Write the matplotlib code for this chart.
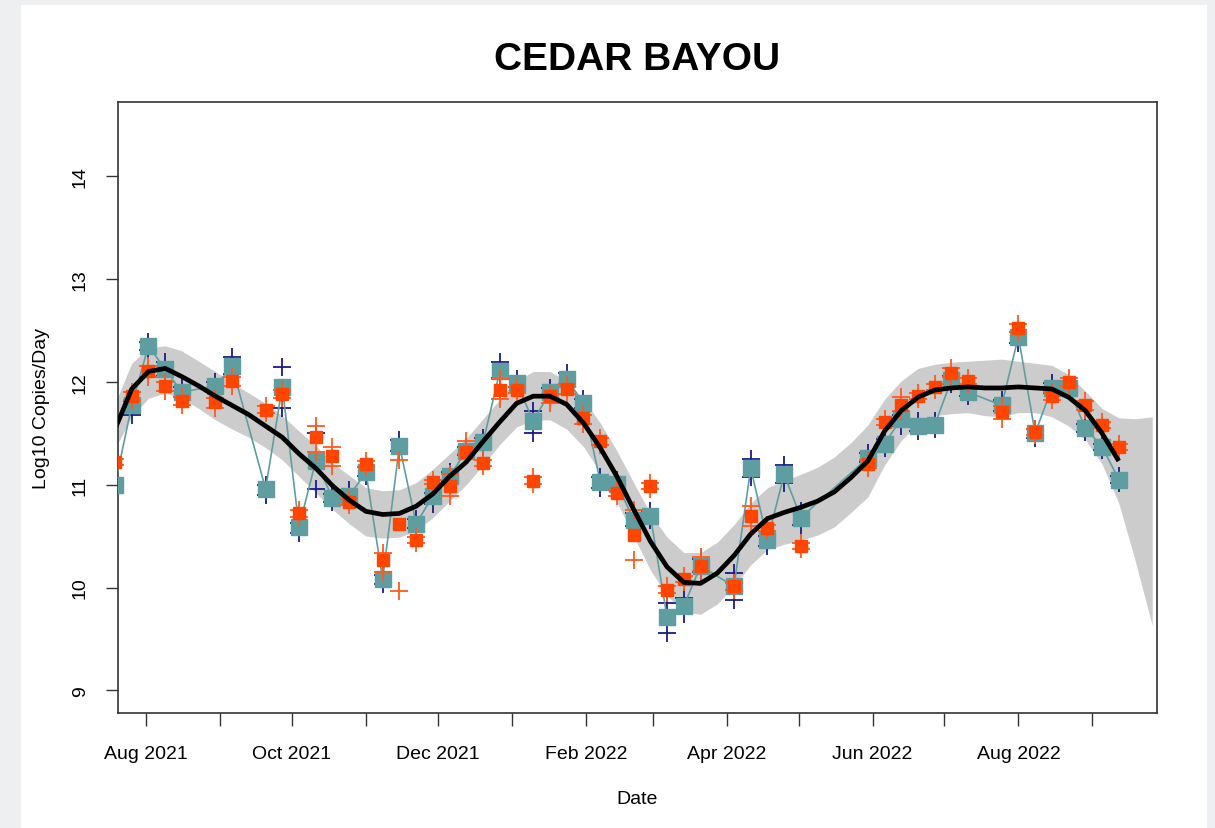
import numpy as np
import pandas as pd
import matplotlib
matplotlib.use("Agg")
from matplotlib import pyplot as plt
from matplotlib import patches
import matplotlib.dates as mdates

plt.rcParams['font.family'] = ['Liberation Sans', 'DejaVu Sans']

# sample dates (weekly, a few weeks missing)
dates = ["2021-07-19", "2021-07-26", "2021-08-02", "2021-08-09", "2021-08-16", "2021-08-30",
         "2021-09-06", "2021-09-20", "2021-09-27", "2021-10-04", "2021-10-11", "2021-10-18",
         "2021-10-25", "2021-11-01", "2021-11-08", "2021-11-15", "2021-11-22", "2021-11-29",
         "2021-12-06", "2021-12-13", "2021-12-20", "2021-12-27", "2022-01-03", "2022-01-10",
         "2022-01-17", "2022-01-24", "2022-01-31", "2022-02-07", "2022-02-14", "2022-02-21",
         "2022-02-28", "2022-03-07", "2022-03-14", "2022-03-21", "2022-04-04", "2022-04-11",
         "2022-04-18", "2022-04-25", "2022-05-02", "2022-05-30", "2022-06-06", "2022-06-13",
         "2022-06-20", "2022-06-27", "2022-07-04", "2022-07-11", "2022-07-25", "2022-08-01",
         "2022-08-08", "2022-08-15", "2022-08-22", "2022-08-29", "2022-09-05", "2022-09-12"]

# teal series (mean) and its replicates
teal_mean = [11.00, 11.77, 12.35, 12.12, 11.90, 11.96, 12.15, 10.96, 11.95, 10.59, 11.23, 10.87,
             10.89, 11.12, 10.08, 11.38, 10.62, 10.89, 11.08, 11.33, 11.41, 12.10, 11.99, 11.62,
             11.90, 12.03, 11.79, 11.03, 11.01, 10.66, 10.70, 9.71, 9.82, 10.21, 10.01, 11.16,
             10.46, 11.10, 10.68, 11.26, 11.40, 11.64, 11.57, 11.58, 12.02, 11.90, 11.77, 12.44,
             11.50, 11.94, 11.94, 11.55, 11.37, 11.05]
navy_rep1 = [11.04, 11.81, 12.39, 12.19, 11.95, 12.00, 12.24, 11.00, 12.14, 10.63, 11.50, 10.91,
             10.95, 11.17, 10.12, 11.43, 10.67, 10.92, 11.12, 11.37, 11.45, 12.19, 12.03, 11.72,
             11.94, 12.09, 11.83, 11.07, 11.05, 10.72, 10.74, 9.85, 9.90, 10.28, 10.14, 11.25,
             10.50, 11.19, 10.74, 11.31, 11.44, 11.68, 11.62, 11.62, 12.06, 11.94, 11.82, 12.48,
             11.54, 11.99, 11.97, 11.59, 11.40, 11.08]
navy_rep2 = [10.96, 11.68, 12.31, 12.06, 11.85, 11.92, 12.08, 10.90, 11.75, 10.53, 10.96, 10.83,
             10.85, 11.08, 10.03, 11.33, 10.58, 10.81, 11.04, 11.29, 11.37, 12.04, 11.95, 11.50,
             11.86, 11.98, 11.75, 10.97, 10.97, 10.60, 10.66, 9.56, 9.74, 10.15, 9.88, 11.07,
             10.40, 11.02, 10.61, 11.22, 11.36, 11.57, 11.52, 11.54, 11.98, 11.86, 11.72, 12.38,
             11.45, 11.89, 11.91, 11.51, 11.34, 11.02]

# orange series (mean) and its replicates
orange_mean = [11.22, 11.86, 12.10, 11.96, 11.81, 11.80, 12.01, 11.73, 11.88, 10.72, 11.46, 11.28,
               10.83, 11.20, 10.27, 10.62, 10.46, 11.03, 10.99, 11.32, 11.21, 11.92, 11.92, 11.04,
               11.86, 11.93, 11.65, 11.42, 10.92, 10.51, 10.99, 9.98, 10.08, 10.21, 10.01, 10.70,
               10.58, np.nan, 10.40, 11.20, 11.61, 11.77, 11.86, 11.95, 12.09, 12.01, 11.71, 12.52,
               11.51, 11.86, 12.00, 11.77, 11.58, 11.37]
orange_rep1 = [11.25, 11.90, 12.15, 12.00, 11.85, 11.84, 12.05, 11.76, 11.92, 10.75, 11.57, 11.37,
               10.86, 11.23, 10.34, 11.24, 10.49, 11.05, 11.10, 11.42, 11.24, 12.03, 11.95, 11.07,
               11.88, 11.98, 11.68, 11.45, 10.95, 10.75, 11.02, 10.01, 10.11, 10.30, 10.04, 10.79,
               10.61, np.nan, 10.43, 11.24, 11.64, 11.85, 11.89, 11.98, 12.13, 12.04, 11.76, 12.56,
               11.54, 11.90, 12.04, 11.81, 11.61, 11.40]
orange_rep2 = [11.19, 11.82, 12.05, 11.91, 11.77, 11.75, 11.96, 11.70, 11.84, 10.69, 11.32, 11.18,
               10.80, 11.17, 10.15, 9.97, 10.43, 11.01, 10.89, 11.30, 11.18, 11.83, 11.89, 11.01,
               11.79, 11.88, 11.59, 11.39, 10.89, 10.27, 10.96, 9.95, 10.05, 10.16, 9.98, 10.60,
               10.55, np.nan, 10.37, 11.16, 11.58, 11.72, 11.83, 11.92, 12.05, 11.98, 11.64, 12.48,
               11.48, 11.82, 11.96, 11.73, 11.55, 11.34]

# smooth fit and confidence band, read weekly from 2021-07-19
fit_mid = [11.54, 11.93, 12.10, 12.13, 12.05, 11.96, 11.86, 11.77, 11.68, 11.57, 11.46, 11.30,
           11.16, 10.99, 10.85, 10.74, 10.71, 10.72, 10.79, 10.91, 11.08, 11.22, 11.42, 11.61,
           11.79, 11.86, 11.86, 11.78, 11.60, 11.36, 11.08, 10.76, 10.45, 10.20, 10.05, 10.04,
           10.14, 10.31, 10.52, 10.67, 10.73, 10.78, 10.84, 10.93, 11.07, 11.23, 11.52, 11.72,
           11.85, 11.92, 11.94, 11.95, 11.94, 11.94, 11.95, 11.94, 11.93, 11.85, 11.72, 11.50,
           11.23]
fit_hi = [11.79, 12.18, 12.33, 12.35, 12.30, 12.20, 12.10, 11.99, 11.89, 11.79, 11.67, 11.52,
          11.38, 11.21, 11.09, 10.97, 10.94, 10.95, 11.02, 11.15, 11.30, 11.45, 11.64, 11.83,
          12.01, 12.10, 12.10, 12.01, 11.83, 11.60, 11.33, 11.02, 10.72, 10.49, 10.34, 10.34,
          10.44, 10.61, 10.82, 10.97, 11.04, 11.10, 11.17, 11.27, 11.41, 11.58, 11.83, 12.01,
          12.13, 12.17, 12.19, 12.20, 12.21, 12.22, 12.20, 12.18, 12.16, 12.07, 11.91, 11.74,
          11.65, 11.64, 11.66]
fit_lo = [11.35, 11.66, 11.84, 11.89, 11.84, 11.74, 11.63, 11.54, 11.46, 11.36, 11.24, 11.08,
          10.92, 10.76, 10.62, 10.50, 10.48, 10.49, 10.55, 10.68, 10.84, 11.00, 11.19, 11.39,
          11.56, 11.63, 11.63, 11.54, 11.37, 11.12, 10.83, 10.50, 10.17, 9.92, 9.76, 9.74,
          9.84, 10.01, 10.22, 10.37, 10.42, 10.46, 10.51, 10.59, 10.73, 10.88, 11.19, 11.43,
          11.59, 11.67, 11.69, 11.70, 11.67, 11.66, 11.70, 11.70, 11.66, 11.57, 11.44, 11.20,
          10.82, 10.25, 9.63]

x = pd.to_datetime(dates)
fit_x = pd.date_range("2021-07-19", periods=len(fit_hi), freq="7D")

W, H = 1215, 829
fig = plt.figure(figsize=(W / 100, H / 100), dpi=100, facecolor="#eeeff1")
fig.patches.append(patches.Rectangle((21 / W, 0), (1207 - 21) / W, 1 - 6 / H,
                                     transform=fig.transFigure, facecolor="white",
                                     edgecolor="none", zorder=-5))
ax = fig.add_axes([118 / W, 1 - 714 / H, (1157 - 118) / W, (714 - 103) / H])
ax.set_zorder(2)

# band, points, fit
ax.fill_between(fit_x, fit_lo, fit_hi, color="#cccccc", lw=0, zorder=1)
for rep in (navy_rep1, navy_rep2):
    ax.plot(x, rep, ls="none", marker="+", ms=13, mew=1.3, color="#1a1a8c", zorder=2)
ax.plot(x, teal_mean, color="#5f9ea0", lw=1.2, marker="s", ms=11.5, mec="#5f9ea0", zorder=3)
for rep in (orange_rep1, orange_rep2):
    ax.plot(x, rep, ls="none", marker="+", ms=13, mew=1.3, color="#ff5a1f", zorder=4)
ax.plot(x, orange_mean, ls="none", marker="s", ms=8.5, color="#ff4500", zorder=5)
ax.plot(fit_x[:len(fit_mid)], fit_mid, color="black", lw=3.4, zorder=6,
        solid_capstyle="butt", solid_joinstyle="round")

ax.set_xlim(pd.Timestamp("2021-07-20 06:00"), pd.Timestamp("2022-09-28"))
ax.set_ylim(8.78, 14.72)
ax.set_yticks([9, 10, 11, 12, 13, 14])
ax.xaxis.set_major_locator(mdates.MonthLocator(bymonth=[2, 4, 6, 8, 10, 12]))
ax.xaxis.set_major_formatter(mdates.DateFormatter("%b %Y"))
ax.xaxis.set_minor_locator(mdates.MonthLocator(bymonth=[1, 3, 5, 7, 9, 11]))
ax.tick_params(which="both", direction="out", length=9, width=1, color="#333333",
               labelsize=14)
ax.tick_params(axis="x", pad=14)
ax.tick_params(axis="y", pad=12)
for lab in ax.get_yticklabels():
    lab.set_rotation(90)
    lab.set_va("center")
for sp in ax.spines.values():
    sp.set_linewidth(1.2)
    sp.set_color("#333333")

ax.set_title("CEDAR BAYOU", fontsize=28, fontweight="bold", pad=24)
ax.set_xlabel("Date", fontsize=14, labelpad=20)
ax.set_ylabel("Log10 Copies/Day", fontsize=14, labelpad=16)

fig.savefig("out.png", dpi=100, facecolor=fig.get_facecolor())
